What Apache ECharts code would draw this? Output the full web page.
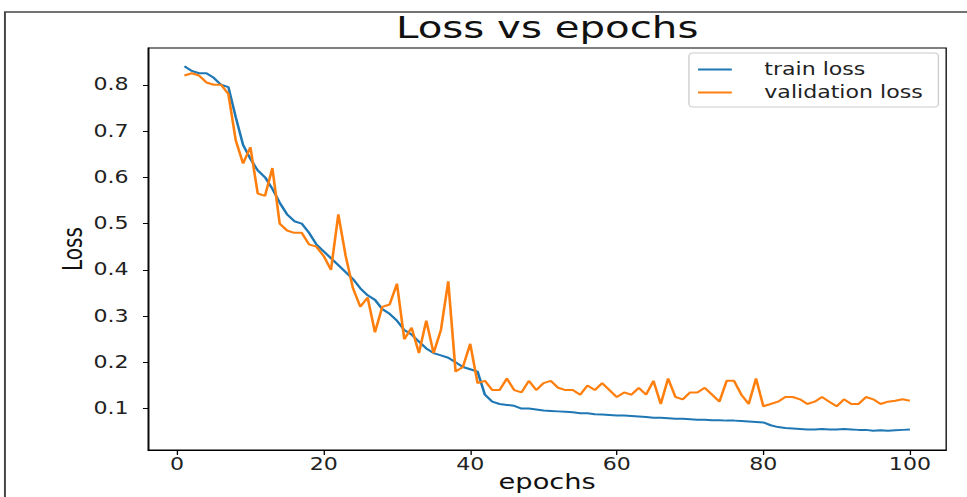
<!DOCTYPE html>
<html>
<head>
<meta charset="utf-8">
<script src="https://cdn.jsdelivr.net/npm/echarts@6/dist/echarts.min.js"></script>
<style>
  html, body { margin: 0; padding: 0; background: #fff; overflow: hidden; }
  /* the reference screenshot is stretched sideways, so draw narrow and widen */
  #main { width: 744px; height: 497px; transform: scaleX(1.2997); transform-origin: 0 0; }
</style>
</head>
<body>
<div id="main"></div>
<script>
// loss per epoch
var epochs = [];
for (var i = 1; i <= 100; i++) epochs.push(i);

var trainLoss = [
  0.84, 0.83, 0.825, 0.825, 0.815, 0.80, 0.795, 0.73, 0.67, 0.64,
  0.615, 0.60, 0.575, 0.545, 0.52, 0.505, 0.50, 0.48, 0.455, 0.44,
  0.425, 0.41, 0.395, 0.38, 0.36, 0.345, 0.335, 0.315, 0.305, 0.29,
  0.27, 0.26, 0.245, 0.23, 0.22, 0.215, 0.21, 0.20, 0.19, 0.185,
  0.18, 0.13, 0.115, 0.11, 0.108, 0.106, 0.10, 0.10, 0.098, 0.096,
  0.095, 0.094, 0.093, 0.092, 0.09, 0.09, 0.088, 0.087, 0.086, 0.085,
  0.085, 0.084, 0.083, 0.082, 0.08, 0.08, 0.079, 0.078, 0.078, 0.077,
  0.076, 0.076, 0.075, 0.075, 0.074, 0.074, 0.073, 0.072, 0.071, 0.07,
  0.064, 0.06, 0.058, 0.057, 0.056, 0.055, 0.055, 0.056, 0.055, 0.055,
  0.056, 0.055, 0.054, 0.054, 0.052, 0.053, 0.052, 0.053, 0.054, 0.055
];

var valLoss = [
  0.82, 0.825, 0.82, 0.805, 0.80, 0.80, 0.78, 0.68, 0.63, 0.665,
  0.565, 0.56, 0.62, 0.50, 0.485, 0.48, 0.48, 0.455, 0.45, 0.43,
  0.40, 0.52, 0.43, 0.36, 0.32, 0.34, 0.265, 0.32, 0.325, 0.37,
  0.25, 0.275, 0.22, 0.29, 0.22, 0.27, 0.375, 0.18, 0.19, 0.24,
  0.155, 0.16, 0.14, 0.14, 0.165, 0.14, 0.135, 0.16, 0.14, 0.155,
  0.16, 0.145, 0.14, 0.14, 0.13, 0.15, 0.14, 0.155, 0.14, 0.125,
  0.135, 0.13, 0.145, 0.13, 0.16, 0.11, 0.165, 0.125, 0.12, 0.135,
  0.135, 0.145, 0.13, 0.115, 0.16, 0.16, 0.13, 0.11, 0.165, 0.105,
  0.11, 0.115, 0.125, 0.125, 0.12, 0.11, 0.115, 0.125, 0.115, 0.105,
  0.12, 0.11, 0.11, 0.125, 0.12, 0.11, 0.115, 0.117, 0.12, 0.117
];

var xTicks = [0, 20, 40, 60, 80, 100];
var yTicks = [0.1, 0.2, 0.3, 0.4, 0.5, 0.6, 0.7, 0.8];

function pairs(vals) {
  return vals.map(function (v, i) { return [epochs[i], v]; });
}

var chart = echarts.init(document.getElementById('main'), null, { renderer: 'svg' });

var tickFont = { fontFamily: 'DejaVu Sans', fontSize: 17, color: '#222' };
var lineIcon = 'path://M0,0 L26,0 L26,2 L0,2 Z';

option = {
  animation: false,
  color: ['#1f77b4', '#ff7f0e'],
  title: {
    text: 'Loss vs epochs',
    left: 421,
    top: 12,
    padding: 0,
    textAlign: 'center',
    textStyle: { fontFamily: 'DejaVu Sans', fontSize: 31, fontWeight: 'normal', color: '#111' }
  },
  legend: {
    orient: 'vertical',
    right: 22,
    top: 53,
    padding: [8, 12, 6, 7],
    itemGap: 6,
    itemWidth: 26,
    itemHeight: 14,
    borderColor: '#ccc',
    borderWidth: 1,
    borderRadius: 3,
    textStyle: { fontFamily: 'DejaVu Sans', fontSize: 17, color: '#222', padding: [0, 0, 0, 20] },
    data: [
      { name: 'train loss', icon: lineIcon },
      { name: 'validation loss', icon: lineIcon }
    ]
  },
  grid: {
    left: 114,
    right: 16,
    top: 48,
    bottom: 47,
    outerBoundsMode: 'none',
    show: true,
    borderColor: '#000',
    borderWidth: 1
  },
  xAxis: {
    type: 'value',
    min: -3.95,
    max: 104.95,
    name: 'epochs',
    nameLocation: 'middle',
    nameGap: 21,
    nameMoveOverlap: false,
    nameTextStyle: { fontFamily: 'DejaVu Sans', fontSize: 21, color: '#111' },
    axisLine: { show: true, onZero: false, lineStyle: { color: '#000' } },
    axisTick: { show: true, length: 5, customValues: xTicks, lineStyle: { color: '#000' } },
    axisLabel: Object.assign({ margin: 6, customValues: xTicks }, tickFont),
    splitLine: { show: false }
  },
  yAxis: {
    type: 'value',
    min: 0.0105,
    max: 0.8795,
    name: 'Loss',
    nameLocation: 'middle',
    nameGap: 48,
    nameRotate: 90,
    nameMoveOverlap: false,
    nameTextStyle: { fontFamily: 'DejaVu Sans', fontSize: 20, color: '#111' },
    axisLine: { show: true, onZero: false, lineStyle: { color: '#000' } },
    axisTick: { show: true, length: 4, customValues: yTicks, lineStyle: { color: '#000' } },
    axisLabel: Object.assign({
      margin: 15,
      customValues: yTicks,
      formatter: function (v) { return v.toFixed(1); }
    }, tickFont),
    splitLine: { show: false }
  },
  graphic: [{
    type: 'rect',
    shape: { x: 3.8, y: 12, width: 800, height: 520 },
    style: { fill: 'none', stroke: '#444', lineWidth: 1.5 },
    silent: true,
    z: -1
  }],
  series: [
    {
      name: 'train loss',
      type: 'line',
      data: pairs(trainLoss),
      showSymbol: false,
      lineStyle: { width: 2 }
    },
    {
      name: 'validation loss',
      type: 'line',
      data: pairs(valLoss),
      showSymbol: false,
      lineStyle: { width: 2 }
    }
  ]
};

chart.setOption(option);
</script>
</body>
</html>
